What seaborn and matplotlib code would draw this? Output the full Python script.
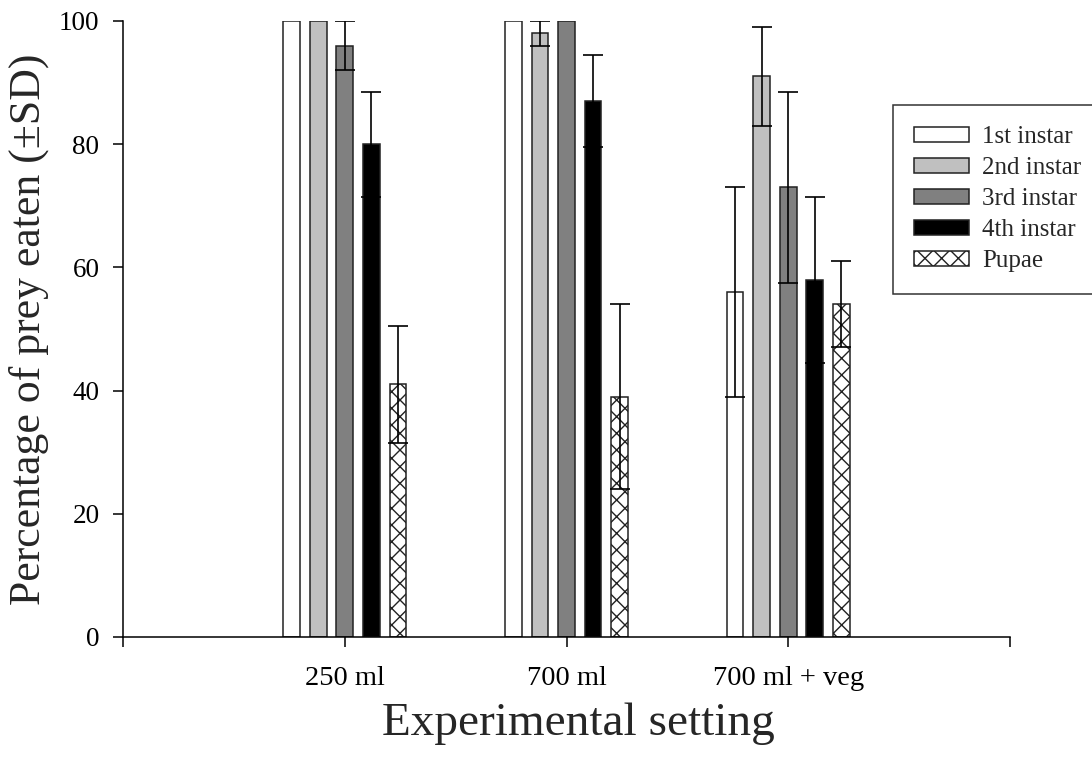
import matplotlib
matplotlib.use("Agg")
import matplotlib.pyplot as plt
import seaborn as sns
import pandas as pd
import numpy as np

settings = ["250 ml", "700 ml", "700 ml + veg"]
stages = ["1st instar", "2nd instar", "3rd instar", "4th instar", "Pupae"]
mean_1st = [100, 100, 56]
mean_2nd = [100, 98, 91]
mean_3rd = [96, 100, 73]
mean_4th = [80, 87, 58]
mean_pupae = [41, 39, 54]
sd_1st = [0, 0, 17]
sd_2nd = [0, 2, 8]
sd_3rd = [4, 0, 15.5]
sd_4th = [8.5, 7.5, 13.5]
sd_pupae = [9.5, 15, 7]
colors = ["#ffffff", "#c0c0c0", "#808080", "#000000", "#ffffff"]

means = [mean_1st, mean_2nd, mean_3rd, mean_4th, mean_pupae]
sds = [sd_1st, sd_2nd, sd_3rd, sd_4th, sd_pupae]
rows = []
for st, m, s in zip(stages, means, sds):
    for se, mv, sv in zip(settings, m, s):
        rows.append({"setting": se, "stage": st, "mean": mv, "sd": sv})
df = pd.DataFrame(rows)

sns.set_style("ticks")
plt.rcParams["font.family"] = ["Liberation Serif", "DejaVu Serif"]
plt.rcParams["hatch.linewidth"] = 1.0
plt.rcParams["hatch.color"] = "black"

fig = plt.figure(figsize=(10.92, 7.65), dpi=100)
ax = fig.add_axes([123/1092, 1-637/765, (1010-123)/1092, (637-21)/765])

sns.barplot(data=df, x="setting", y="mean", hue="stage", order=settings,
            hue_order=stages, palette=colors, width=0.6, gap=0.37,
            edgecolor="#222222", linewidth=1.1, errorbar=None, legend=False,
            saturation=1, ax=ax)

bar_containers = list(ax.containers)
for p in bar_containers[4]:
    p.set_hatch("xx")

for cont, st in zip(bar_containers, stages):
    sub = df[df["stage"] == st].set_index("setting").loc[settings]
    xs = [p.get_x() + p.get_width() / 2 for p in cont]
    for x, mv, sv in zip(xs, sub["mean"], sub["sd"]):
        if sv > 0:
            ax.errorbar(x, mv, yerr=sv, fmt="none", ecolor="black",
                        elinewidth=1.2, capsize=7, capthick=1.2, zorder=5)

ax.set_xlim(-1, 3)
ax.set_ylim(0, 100)
ax.set_xticks([-1, 0, 1, 2, 3])
ax.set_xticklabels(["", "250 ml", "700 ml", "700 ml + veg", ""])
ax.set_yticks([0, 20, 40, 60, 80, 100])
ax.tick_params(axis="both", direction="out", length=7, width=1.1,
               colors="black")
ax.tick_params(axis="x", pad=14, labelsize=20.5)
ax.tick_params(axis="y", pad=10, labelsize=19.5)
for side in ["top", "right"]:
    ax.spines[side].set_visible(False)
for side in ["left", "bottom"]:
    ax.spines[side].set_linewidth(1.1)
    ax.spines[side].set_color("black")

ax.set_xlabel("Experimental setting", fontsize=34, labelpad=8)
ax.xaxis.label.set_x((578 - 123) / (1010 - 123))
ax.set_ylabel("Percentage of prey eaten (\u00b1SD)", fontsize=31.5, labelpad=7)

leg = ax.legend(bar_containers, stages, loc="upper left",
                bbox_to_anchor=(893/1092, 1-105/765), bbox_transform=fig.transFigure,
                fontsize=18, frameon=True, fancybox=False, borderpad=0.85,
                handlelength=2.2, handleheight=0.56, handletextpad=0.52,
                labelspacing=0.36, borderaxespad=0)
leg.get_frame().set_edgecolor("black")
leg.get_frame().set_linewidth(1.1)

fig.savefig("out.png", dpi=100)
